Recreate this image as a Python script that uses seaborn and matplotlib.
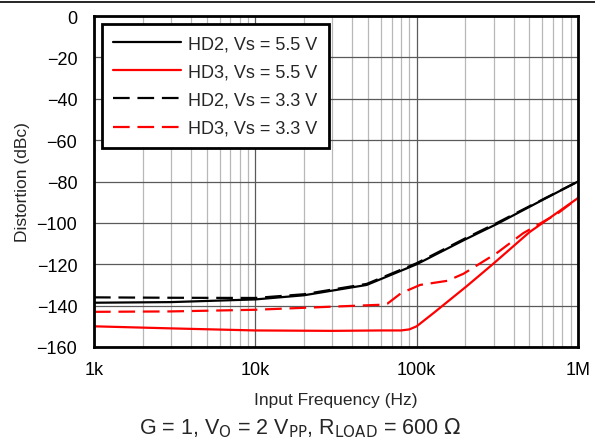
import numpy as np
import pandas as pd
import matplotlib
matplotlib.use("Agg")
import matplotlib.pyplot as plt
import seaborn as sns
from matplotlib.ticker import FixedLocator, LogLocator, NullFormatter

sns.set_theme(style="white")
plt.rcParams['font.family'] = ['Liberation Sans', 'DejaVu Sans']
plt.rcParams['axes.unicode_minus'] = True

# --- data ---
hd2_55_f = [1e3, 3e3, 10e3, 20e3, 49e3, 100e3, 200e3, 315e3, 600e3, 1e6]
hd2_55_db = [-138.6, -138.3, -137.0, -135.0, -130.0, -120.0, -108.0, -100.5, -89.0, -80.0]

hd3_55_f = [1e3, 3e3, 10e3, 30e3, 60e3, 80e3, 90e3, 100e3, 130e3, 205e3, 296e3, 500e3, 1e6]
hd3_55_db = [-150.0, -151.0, -152.0, -152.2, -152.0, -152.0, -151.5, -150.0, -143.0, -130.5, -120.0, -104.5, -88.0]

hd2_33_f = [1e3, 3e3, 10e3, 20e3, 49e3, 100e3, 200e3, 315e3, 600e3, 1e6]
hd2_33_db = [-136.0, -136.2, -136.3, -134.5, -129.5, -119.5, -107.5, -100.0, -88.8, -80.0]

hd3_33_f = [1e3, 3e3, 10e3, 30e3, 59e3, 66e3, 80e3, 105e3, 155e3, 195e3, 315e3, 457e3, 740e3, 1e6]
hd3_33_db = [-143.0, -142.8, -142.0, -140.5, -139.6, -139.0, -134.0, -130.0, -128.0, -124.6, -114.5, -105.0, -95.7, -88.0]

labels = ["HD2, Vs = 5.5 V", "HD3, Vs = 5.5 V", "HD2, Vs = 3.3 V", "HD3, Vs = 3.3 V"]
y_ticks = [0, -20, -40, -60, -80, -100, -120, -140, -160]
x_ticks = [1e3, 1e4, 1e5, 1e6]
x_ticklabels = ["1k", "10k", "100k", "1M"]

series = [
    (hd2_55_f, hd2_55_db, labels[0]),
    (hd3_55_f, hd3_55_db, labels[1]),
    (hd2_33_f, hd2_33_db, labels[2]),
    (hd3_33_f, hd3_33_db, labels[3]),
]
df = pd.concat([pd.DataFrame({"freq": f, "db": d, "trace": lab}) for f, d, lab in series])

fig = plt.figure(figsize=(5.95, 4.39), dpi=100)
ax = fig.add_axes([94 / 595, 1 - 348 / 439, 484 / 595, 331 / 439])
ax.set_xscale("log")

palette = {labels[0]: "black", labels[1]: "#ff0000", labels[2]: "black", labels[3]: "#ff0000"}
dashes = {labels[0]: "", labels[1]: "", labels[2]: (7.5, 3.5), labels[3]: (7.5, 3.5)}
sns.lineplot(data=df, x="freq", y="db", hue="trace", style="trace", palette=palette,
             dashes=dashes, hue_order=labels, style_order=labels, ax=ax, linewidth=1.6,
             sort=False, estimator=None)

ax.set_xlim(1e3, 1e6)
ax.set_ylim(-160, 0)
ax.xaxis.set_major_locator(FixedLocator(x_ticks))
ax.set_xticklabels(x_ticklabels)
ax.xaxis.set_minor_locator(LogLocator(base=10, subs=np.arange(2, 10)))
ax.xaxis.set_minor_formatter(NullFormatter())
ax.set_yticks(y_ticks)
ax.set_yticklabels([f"{v}".replace("-", "\u2212") for v in y_ticks])

ax.grid(which="major", axis="both", color="#5a5a5a", linewidth=0.9)
ax.grid(which="minor", axis="x", color="#b8b8b8", linewidth=0.9)
ax.set_axisbelow(True)
for s in ax.spines.values():
    s.set_color("black")
    s.set_linewidth(2.0)

ax.tick_params(axis="both", which="both", labelsize=13, colors="black", length=0)
ax.tick_params(axis="x", pad=10)
ax.tick_params(axis="y", pad=12)
ax.set_xlabel("Input Frequency (Hz)", fontsize=12.5, labelpad=10)
ax.set_ylabel("Distortion (dBc)", fontsize=12.5, labelpad=5)

leg = ax.legend(loc="upper left", fontsize=13, frameon=True, fancybox=False,
                edgecolor="black", framealpha=1, borderpad=0.62, labelspacing=0.62,
                handlelength=3.75, handletextpad=0.4, borderaxespad=0.45)
leg.get_frame().set_linewidth(2.0)
for line in leg.get_lines():
    line.set_linewidth(1.6)

fig.text(300 / 595, 1 - 428 / 439,
         r"G = 1, V$_\mathrm{O}$ = 2 V$_\mathrm{PP}$, R$_\mathrm{LOAD}$ = 600 $\Omega$",
         ha="center", va="center", fontsize=15.5)
fig.add_artist(plt.Line2D([0, 1], [1 - 3 / 439, 1 - 3 / 439], color="black", linewidth=1.2))

fig.savefig("out.png", dpi=100)
